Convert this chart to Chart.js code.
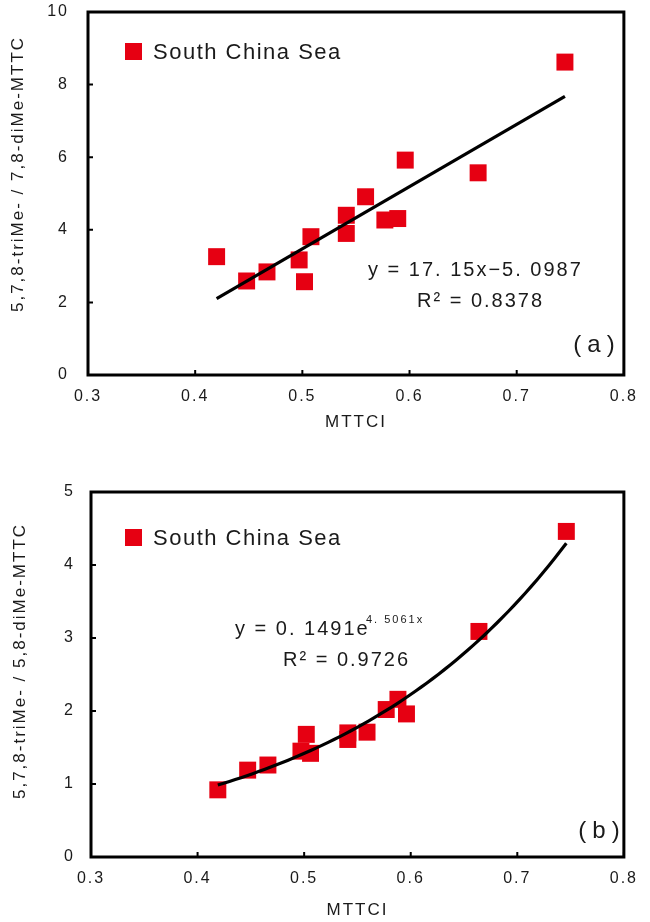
<!DOCTYPE html>
<html>
<head>
<meta charset="utf-8">
<script src="https://cdn.jsdelivr.net/npm/chart.js@4.4.0/dist/chart.umd.min.js"></script>
<style>
  html, body { margin: 0; padding: 0; background: #fff; }
  .panel { position: absolute; left: 0; width: 650px; }
  #panelA { top: 0; height: 460px; }
  #panelB { top: 460px; height: 462px; }
</style>
</head>
<body>
<div class="panel" id="panelA"><canvas id="chartA" width="650" height="460"></canvas></div>
<div class="panel" id="panelB"><canvas id="chartB" width="650" height="462"></canvas></div>
<script>
// MTTCI (x) and ratio (y) of the South China Sea samples
const mttciA = [0.420, 0.448, 0.467, 0.497, 0.502, 0.508, 0.541, 0.541, 0.559, 0.577, 0.589, 0.596, 0.664, 0.745];
const ratioA = [3.26, 2.59, 2.84, 3.17, 2.57, 3.81, 4.40, 3.90, 4.91, 4.27, 4.31, 5.92, 5.57, 8.62];
const mttciB = [0.419, 0.447, 0.466, 0.497, 0.502, 0.506, 0.541, 0.541, 0.559, 0.577, 0.588, 0.596, 0.664, 0.746];
const ratioB = [0.92, 1.19, 1.26, 1.45, 1.68, 1.42, 1.70, 1.61, 1.71, 2.02, 2.16, 1.96, 3.09, 4.46];
const xTicks = [0.3, 0.4, 0.5, 0.6, 0.7, 0.8];
const yTicksA = [0, 2, 4, 6, 8, 10];
const yTicksB = [0, 1, 2, 3, 4, 5];
const seriesName = 'South China Sea';
// trendline coefficients as printed on the figure
const linA = { slope: 17.15, intercept: -5.0987 };
const expB = { a: 0.1491, b: 4.5061 };

const FONT = "'Liberation Sans', Arial, sans-serif";
const RED = '#E60012';
const INK = '#1a1a1a';

// trend lines over the sampled MTTCI range
const loA = Math.min(...mttciA), hiA = Math.max(...mttciA);
const trendA = [loA, hiA].map(v => ({ x: v, y: linA.slope * v + linA.intercept }));
const loB = Math.min(...mttciB), hiB = Math.max(...mttciB);
const trendB = [];
for (let i = 0; i <= 60; i++) {
  const v = loB + (hiB - loB) * i / 60;
  trendB.push({ x: v, y: expB.a * Math.exp(expB.b * v) });
}

const spacing = {
  id: 'spacing',
  beforeUpdate(chart) { chart.ctx.letterSpacing = '2px'; },
  beforeDraw(chart) { chart.ctx.letterSpacing = '2px'; }
};

// frame, inward ticks, legend inside the plot, y title and the equation texts
const decor = {
  id: 'decor',
  afterDatasetsDraw(chart, args, o) {
    const { ctx, chartArea: a, scales: { x, y } } = chart;
    ctx.save();
    ctx.strokeStyle = '#000';
    ctx.lineWidth = 2;
    ctx.beginPath();
    x.ticks.forEach(t => {
      const px = x.getPixelForValue(t.value);
      ctx.moveTo(px, a.bottom); ctx.lineTo(px, a.bottom - 5);
    });
    y.ticks.forEach(t => {
      const py = y.getPixelForValue(t.value);
      ctx.moveTo(a.left, py); ctx.lineTo(a.left + 5, py);
    });
    ctx.stroke();
    ctx.lineWidth = 3;
    ctx.strokeRect(a.left, a.top, a.right - a.left, a.bottom - a.top);

    // legend
    const ds = chart.data.datasets[1];
    ctx.fillStyle = ds.backgroundColor;
    ctx.fillRect(o.legend.x, o.legend.y, 17, 17);
    ctx.fillStyle = INK;
    ctx.letterSpacing = '1.5px';
    ctx.font = '22px ' + FONT;
    ctx.textAlign = 'left';
    ctx.textBaseline = 'alphabetic';
    ctx.fillText(ds.label, o.legend.x + 28, o.legend.y + 16);

    // y axis title
    ctx.save();
    ctx.letterSpacing = '2px';
    ctx.font = '17px ' + FONT;
    ctx.textAlign = 'center';
    ctx.textBaseline = 'middle';
    ctx.translate(o.yTitle.x, o.yTitle.y);
    ctx.rotate(-Math.PI / 2);
    ctx.fillText(o.yTitle.text, 0, 0);
    ctx.restore();

    o.texts.forEach(t => {
      ctx.letterSpacing = (t.ls || 2) + 'px';
      ctx.font = t.size + 'px ' + FONT;
      ctx.textAlign = t.align || 'left';
      ctx.fillText(t.text, t.x, t.y);
    });
    ctx.restore();
  }
};

function buildChart(id, cfg) {
  return new Chart(document.getElementById(id), {
    type: 'scatter',
    data: {
      datasets: [
        { label: 'trend', data: cfg.trend, showLine: true, borderColor: '#000', borderWidth: 3.2, pointRadius: 0, tension: 0, order: 0 },
        { label: seriesName, data: cfg.points, pointStyle: 'rect', pointRadius: 12, backgroundColor: RED, borderWidth: 0, order: 1 }
      ]
    },
    options: {
      responsive: false,
      animation: false,
      devicePixelRatio: 1,
      layout: { padding: cfg.padding },
      plugins: {
        legend: { display: false },
        tooltip: { enabled: false },
        decor: cfg.decor
      },
      scales: {
        x: {
          type: 'linear',
          min: xTicks[0],
          max: xTicks[xTicks.length - 1],
          afterBuildTicks: s => { s.ticks = xTicks.map(v => ({ value: v })); },
          afterFit: s => { s.height = cfg.xHeight; },
          grid: { display: false, drawTicks: false },
          border: { display: false },
          ticks: { padding: 12, color: INK, font: { family: FONT, size: 16 }, callback: v => v.toFixed(1) },
          title: { display: true, text: 'MTTCI', color: INK, font: { family: FONT, size: 17 }, padding: { top: 0, bottom: cfg.xTitlePad } }
        },
        y: {
          type: 'linear',
          min: cfg.yTicks[0],
          max: cfg.yTicks[cfg.yTicks.length - 1],
          afterBuildTicks: s => { s.ticks = cfg.yTicks.map(v => ({ value: v })); },
          afterFit: s => { s.width = cfg.yWidth; },
          // invisible tick marks keep the labels away from the frame without padding the top
          grid: { display: true, drawOnChartArea: false, drawTicks: true, tickLength: cfg.yPad, tickColor: 'rgba(0,0,0,0)' },
          border: { display: false },
          ticks: { padding: 1, color: INK, font: { family: FONT, size: 16 }, callback: v => String(v) }
        }
      }
    },
    plugins: [spacing, decor]
  });
}

buildChart('chartA', {
  points: mttciA.map((v, i) => ({ x: v, y: ratioA[i] })),
  trend: trendA,
  yTicks: yTicksA,
  padding: { top: 12, right: 14, left: 0, bottom: 0 },
  xHeight: 85,
  yWidth: 88,
  yPad: 18,
  xTitlePad: 27,
  decor: {
    legend: { x: 125, y: 43 },
    yTitle: { x: 18, y: 174, text: '5,7,8-triMe- / 7,8-diMe-MTTC' },
    texts: [
      { text: 'y = 17. 15x\u22125. 0987', x: 368, y: 276, size: 20 },
      { text: 'R\u00b2 = 0.8378', x: 417, y: 307, size: 20 },
      { text: '(a)', x: 597, y: 352, size: 24, ls: 6, align: 'center' }
    ]
  }
});

buildChart('chartB', {
  points: mttciB.map((v, i) => ({ x: v, y: ratioB[i] })),
  trend: trendB,
  yTicks: yTicksB,
  padding: { top: 32, right: 14, left: 0, bottom: 0 },
  xHeight: 65,
  yWidth: 91,
  yPad: 15,
  xTitlePad: 1,
  decor: {
    legend: { x: 125, y: 69 },
    yTitle: { x: 20, y: 201, text: '5,7,8-triMe- / 5,8-diMe-MTTC' },
    texts: [
      { text: 'y = 0. 1491e', x: 235, y: 175, size: 20 },
      { text: '4. 5061x', x: 366, y: 163, size: 11, ls: 2 },
      { text: 'R\u00b2 = 0.9726', x: 283, y: 206, size: 20 },
      { text: '(b)', x: 602, y: 378, size: 24, ls: 6, align: 'center' }
    ]
  }
});
</script>
</body>
</html>
